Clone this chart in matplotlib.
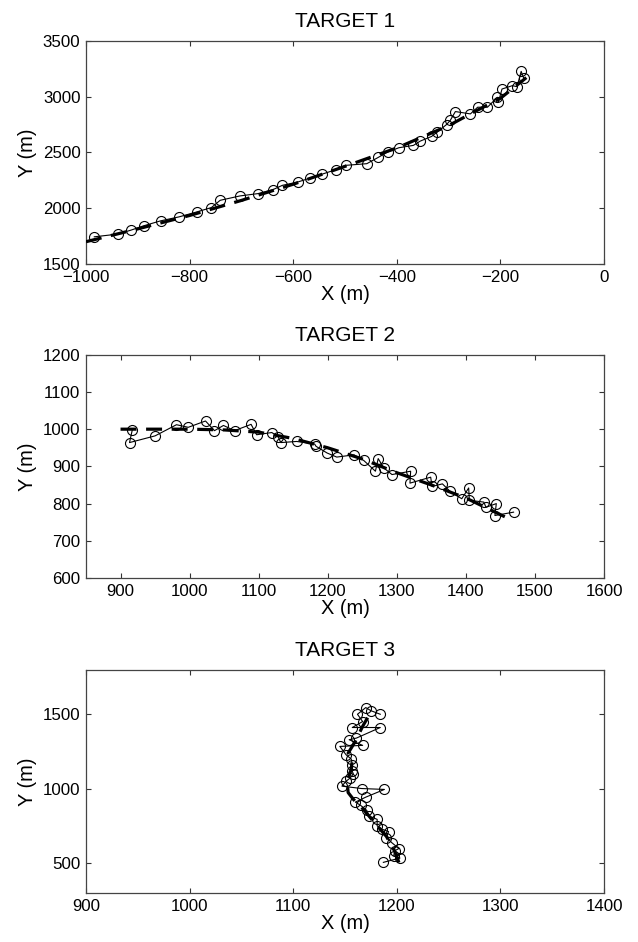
import matplotlib
matplotlib.use("Agg")
import matplotlib.pyplot as plt
import numpy as np

plt.rcParams["font.family"] = ["Liberation Sans", "DejaVu Sans"]

# target 1: measured positions and true track
T1_X = [-984, -939, -913, -889, -856, -820, -786, -758, -741, -703, -668, -639,
        -621, -591, -567, -545, -518, -499, -458, -436, -418, -396, -368, -355,
        -333, -322, -304, -297, -287, -258, -244, -225, -206, -204, -197, -177,
        -168, -160, -155]
T1_Y = [1744, 1768, 1804, 1842, 1887, 1923, 1967, 2006, 2071, 2110, 2131, 2167,
        2205, 2235, 2271, 2304, 2345, 2384, 2399, 2455, 2503, 2542, 2563, 2601,
        2643, 2682, 2750, 2786, 2866, 2845, 2905, 2905, 2994, 2949, 3068, 3098,
        3089, 3226, 3164]
T1_TX = [-1000, -900, -800, -700, -600, -500, -400, -300, -250, -200, -150]
T1_TY = [1700, 1815, 1935, 2070, 2215, 2375, 2540, 2740, 2865, 2985, 3170]

# target 2
T2_X = [917, 913, 950, 981, 998, 1023, 1036, 1049, 1065, 1089, 1097, 1119,
        1128, 1132, 1155, 1181, 1183, 1199, 1213, 1238, 1252, 1269, 1273, 1281,
        1293, 1320, 1319, 1349, 1351, 1366, 1377, 1394, 1404, 1405, 1426, 1429,
        1444, 1442, 1469]
T2_Y = [998, 964, 982, 1012, 1005, 1022, 996, 1010, 996, 1013, 985, 991,
        980, 964, 967, 960, 954, 936, 925, 931, 916, 887, 921, 896,
        878, 887, 855, 871, 846, 853, 833, 813, 842, 809, 804, 790,
        800, 768, 777]
T2_TX = [900, 950, 1000, 1050, 1100, 1150, 1200, 1250, 1300, 1350, 1400, 1457]
T2_TY = [1000, 1000, 1000, 998, 992, 975, 950, 920, 883, 850, 815, 764]

# target 3
T3_X = [1187, 1203, 1197, 1198, 1202, 1195, 1190, 1192, 1186, 1181, 1181,
        1173, 1171, 1165, 1160, 1170, 1188, 1166, 1147, 1151, 1155, 1158,
        1157, 1157, 1156, 1151, 1145, 1167, 1154, 1161, 1184, 1157, 1167,
        1162, 1170, 1175, 1184]
T3_Y = [506, 535, 550, 584, 599, 639, 673, 713, 728, 751, 795,
        817, 855, 889, 911, 944, 996, 1002, 1018, 1051, 1073, 1100,
        1118, 1163, 1200, 1229, 1285, 1292, 1330, 1341, 1412, 1412, 1452,
        1501, 1546, 1525, 1501]
T3_TX = [1202, 1198, 1190, 1180, 1168, 1158, 1153, 1152, 1156, 1157, 1153,
         1160, 1167, 1172, 1176]
T3_TY = [505, 580, 680, 760, 860, 930, 975, 1050, 1130, 1200, 1240,
         1320, 1420, 1480, 1525]

PANELS = [
    ("TARGET 1", T1_X, T1_Y, T1_TX, T1_TY, (-1000, 0), (1500, 3500),
     np.arange(-1000, 1, 200), np.arange(1500, 3501, 500)),
    ("TARGET 2", T2_X, T2_Y, T2_TX, T2_TY, (850, 1600), (600, 1200),
     np.arange(900, 1601, 100), np.arange(600, 1201, 100)),
    ("TARGET 3", T3_X, T3_Y, T3_TX, T3_TY, (900, 1400), (300, 1800),
     np.arange(900, 1401, 100), np.arange(500, 1501, 500)),
]
BOTTOMS = [0.7197, 0.3864, 0.052]

fig = plt.figure(figsize=(6.38, 9.42), dpi=100)
for (title, mx, my, tx, ty, xl, yl, xt, yt), b in zip(PANELS, BOTTOMS):
    ax = fig.add_axes([0.1348, b, 0.812, 0.2370])
    ax.plot(mx, my, "-o", color="black", lw=0.8, ms=7.2, mfc="none",
            mec="black", mew=0.8, zorder=2)
    ax.plot(tx, ty, "--", color="black", lw=2.3, dashes=(5, 3), zorder=3)
    ax.set_xlim(*xl)
    ax.set_ylim(*yl)
    ax.set_xticks(xt)
    ax.set_yticks(yt)
    ax.tick_params(direction="in", length=3.6, width=0.8, top=True,
                   right=True, labelsize=12.2, pad=4, color="#333333")
    for s in ax.spines.values():
        s.set_color("#444444")
        s.set_linewidth(0.9)
    ax.set_xlabel("X (m)", fontsize=14.4, labelpad=0)
    ax.set_ylabel("Y (m)", fontsize=14.4, labelpad=4)
    ax.set_title(title, fontsize=15, pad=10)

fig.savefig("out.png", dpi=100)
